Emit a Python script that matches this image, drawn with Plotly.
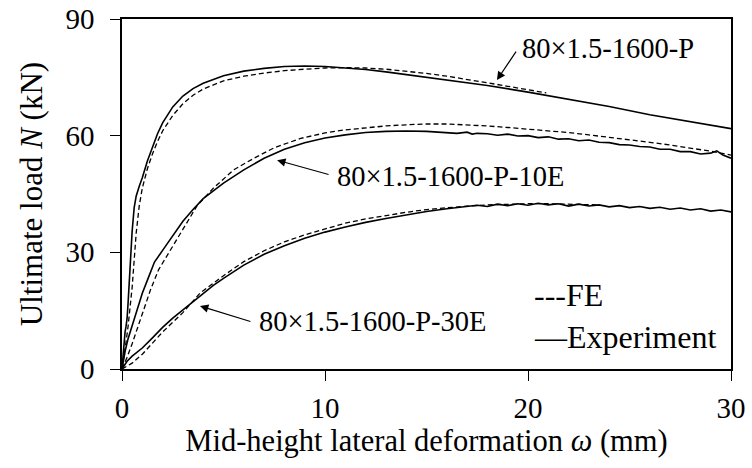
import plotly.graph_objects as go

# ---------------- data ----------------
exp_p_x = [0, 0.05, 0.1, 0.15, 0.2, 0.25, 0.3, 0.4, 0.5, 0.6, 0.7, 0.85, 1.0, 1.25, 1.5, 1.75,
           2.0, 2.5, 3.0, 3.5, 4.0, 5.0, 6.0, 7.0, 8.0, 9.0, 10.0, 11.0, 12.0, 13.0, 14.0,
           16.0, 18.0, 20.0, 22.0, 24.0, 26.0, 28.0, 30.0]
exp_p_y = [0, 4, 7.5, 9.5, 11, 13, 17, 26.5, 35.5, 41.5, 44.5, 47, 49.2, 53.5, 57, 60.5,
           63.3, 67.4, 70.2, 72.1, 73.5, 75.4, 76.6, 77.3, 77.8, 77.9, 77.8, 77.4, 77.0, 76.4, 75.7,
           74.3, 72.9, 71.2, 69.3, 67.5, 65.4, 63.6, 61.8]

fe_p_x = [0, 0.1, 0.2, 0.3, 0.4, 0.5, 0.6, 0.7, 0.85, 1.0, 1.25, 1.5, 1.75, 2.0, 2.5, 3.0,
          3.5, 4.0, 5.0, 6.0, 7.0, 8.0, 9.0, 10.0, 11.0, 12.0, 13.0, 14.0, 15.0, 16.0, 17.0,
          18.0, 19.0, 20.0, 20.9]
fe_p_y = [0, 3, 7, 11, 16, 21, 28, 35, 42, 46.5, 51.5, 55.3, 58.5, 61.2, 65.2, 68.2,
          70.4, 72.0, 74.1, 75.3, 76.1, 76.7, 77.1, 77.4, 77.5, 77.4, 77.1, 76.6, 76.0, 75.3, 74.5,
          73.6, 72.7, 71.8, 71.0]

exp_10e_x = [0, 0.15, 0.3, 0.5, 0.75, 1.0, 1.3, 1.6, 2.0, 2.5, 3.0, 3.5, 4.0, 5.0, 6.0, 7.0,
             8.0, 9.0, 10.0, 11.0, 12.0, 13.0, 14.0, 15.0, 16.0, 16.5, 17.0, 17.25, 17.5, 18.0,
             18.5, 19.0, 19.5, 20.0, 20.5, 21.0, 21.5, 22.0, 22.5, 23.0, 23.5, 24.0, 24.5, 25.0,
             25.5, 26.0, 26.5, 27.0, 27.5, 28.0, 28.5, 29.0, 29.3, 29.6, 30.0]
exp_10e_y = [0, 4.5, 7.8, 11, 15.5, 19.5, 23.5, 27.5, 30.5, 34.3, 38, 41, 43.8, 47.8, 51.2, 54.2,
             56.5, 58.2, 59.4, 60.2, 60.8, 61.1, 61.2, 61.1, 60.8, 60.6, 60.9, 60.4, 60.6, 60.5,
             60.1, 60.4, 59.9, 60.0, 59.5, 59.7, 59.1, 59.2, 58.7, 58.9, 58.3, 58.2, 57.7, 57.6,
             57.2, 57.1, 56.5, 56.5, 55.9, 55.9, 55.3, 55.5, 56.1, 55.0, 54.2]

fe_10e_x = [0, 0.25, 0.5, 0.75, 1.0, 1.4, 1.8, 2.2, 2.7, 3.2, 3.7, 4.5, 5.5, 6.5, 7.5, 8.8,
            10.0, 11.0, 12.0, 13.0, 14.0, 15.0, 16.0, 17.0, 18.0, 19.0, 20.0, 21.0, 22.0, 23.0,
            24.0, 25.0, 26.0, 27.0, 28.0, 29.0, 30.0]
fe_10e_y = [0, 3, 6.5, 10.5, 14.5, 20.3, 25.5, 29, 33.5, 38, 42, 46.5, 51.2, 54.2, 56.9, 59.3,
            60.7, 61.5, 62.0, 62.5, 62.8, 63.0, 63.0, 62.8, 62.5, 62.1, 61.7, 61.2, 60.8, 60.2,
            59.6, 59.0, 58.3, 57.6, 56.8, 56.0, 55.0]

exp_30e_x = [0, 0.25, 0.5, 1.0, 1.5, 2.0, 2.5, 3.0, 3.5, 4.0, 4.5, 5.0, 6.0, 7.0, 8.0, 9.0,
             10.0, 11.0, 12.0, 13.0, 14.0, 15.0, 16.0, 17.0, 17.5, 18.0, 18.5, 19.0, 19.5,
             20.0, 20.5, 21.0, 21.5, 22.0, 22.5, 23.0, 23.5, 24.0, 24.5, 25.0, 25.5, 26.0,
             26.5, 27.0, 27.5, 28.0, 28.5, 29.0, 29.5, 30.0]
exp_30e_y = [0, 2.0, 3.3, 5.4, 8.0, 10.7, 13.1, 15.2, 17.4, 19.6, 21.5, 23.3, 26.7, 29.5, 31.7, 33.6,
             35.2, 36.5, 37.7, 38.7, 39.6, 40.5, 41.2, 41.7, 42.1, 41.8, 42.4, 42.0, 42.5,
             42.1, 42.6, 42.2, 42.5, 41.9, 42.4, 41.9, 42.2, 41.7, 42.0, 41.5, 41.8, 41.3,
             41.6, 41.1, 41.4, 40.9, 41.2, 40.6, 40.9, 40.4]

fe_30e_x = [0, 0.5, 1.0, 2.0, 3.0, 3.84, 5.0, 6.0, 7.0, 8.0, 9.0, 10.0, 11.0, 12.0, 13.0, 14.0,
            15.0, 16.0, 17.0, 18.0, 19.0, 20.0, 21.0, 22.0, 23.5]
fe_30e_y = [0, 1.5, 3.8, 9.5, 14.5, 19.5, 24.0, 27.6, 30.4, 32.7, 34.5, 36.1, 37.5, 38.6, 39.5, 40.3,
            41.0, 41.5, 41.9, 42.2, 42.4, 42.5, 42.5, 42.4, 42.2]

x_ticks = [0, 10, 20, 30]
y_ticks = [0, 30, 60, 90]

specimen_labels = ["80×1.5-1600-P", "80×1.5-1600-P-10E", "80×1.5-1600-P-30E"]
label_pos = [(19.6, 82.5), (10.5, 49.6), (6.65, 12.1)]
arrow_heads = [(18.47, 74.3), (7.64, 53.7), (3.84, 16.2)]
arrow_tails = [(19.46, 82.0), (10.25, 49.9), (6.40, 12.1)]

legend_texts = ["---FE", "—Experiment"]
legend_pos = [(20.2, 19.0), (20.2, 8.2)]

# ---------------- figure ----------------
FONT = "Liberation Serif"
fig = go.Figure()

solid = dict(color="black", width=1.6)
dashed = dict(color="black", width=1.3, dash="5px,3px")

for xs, ys in [(fe_p_x, fe_p_y), (fe_10e_x, fe_10e_y), (fe_30e_x, fe_30e_y)]:
    fig.add_trace(go.Scatter(x=xs, y=ys, mode="lines", line=dashed, showlegend=False))
for xs, ys in [(exp_p_x, exp_p_y), (exp_10e_x, exp_10e_y), (exp_30e_x, exp_30e_y)]:
    fig.add_trace(go.Scatter(x=xs, y=ys, mode="lines", line=solid, showlegend=False))

annotations = []
for txt, (tx, ty) in zip(specimen_labels, label_pos):
    annotations.append(dict(x=tx, y=ty, xref="x", yref="y", text=txt, showarrow=False,
                            xanchor="left", yanchor="middle",
                            font=dict(family=FONT, size=28.5, color="black")))
for (hx, hy), (ax_, ay_) in zip(arrow_heads, arrow_tails):
    annotations.append(dict(x=hx, y=hy, xref="x", yref="y", ax=ax_, ay=ay_, axref="x", ayref="y",
                            text="", showarrow=True, arrowhead=2, arrowsize=1.4,
                            arrowwidth=1.2, arrowcolor="black"))
for txt, (tx, ty) in zip(legend_texts, legend_pos):
    annotations.append(dict(x=tx, y=ty, xref="x", yref="y", text=txt, showarrow=False,
                            xanchor="left", yanchor="middle",
                            font=dict(family=FONT, size=32, color="black")))

axis_common = dict(showgrid=False, zeroline=False, showline=True, linecolor="black",
                   linewidth=1.5, mirror=True, ticks="outside", ticklen=10, tickwidth=1.3,
                   tickcolor="black", automargin=False, ticklabeloverflow="allow",
                   tickfont=dict(family=FONT, size=29, color="black"))

fig.update_layout(
    width=752, height=468,
    margin=dict(l=122, r=21, t=19, b=99),
    paper_bgcolor="white", plot_bgcolor="white",
    font=dict(family=FONT, color="black"),
    annotations=annotations,
    xaxis=dict(range=[0, 30], tickvals=x_ticks, ticktext=[str(v) for v in x_ticks],
               ticklabelstandoff=2,
               title=dict(text="Mid-height lateral deformation <i>ω</i> (mm)",
                          font=dict(family=FONT, size=30.5, color="black"), standoff=4),
               **axis_common),
    yaxis=dict(range=[0, 90], tickvals=y_ticks, ticktext=[str(v) for v in y_ticks],
               ticklabelstandoff=10,
               title=dict(text="Ultimate load <i>N</i> (kN)",
                          font=dict(family=FONT, size=31, color="black"), standoff=14),
               **axis_common),
)

# remove the default 8 px page margin so the figure sits at the window's top-left corner
fig.write_html("out.html", config={"displayModeBar": False},
               post_script="document.body.style.margin='0';document.body.style.padding='0';")
